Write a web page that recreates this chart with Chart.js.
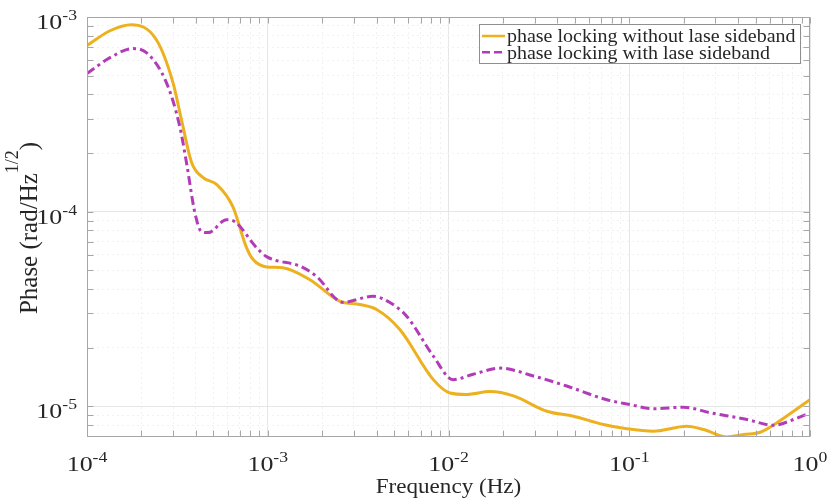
<!DOCTYPE html>
<html>
<head>
<meta charset="utf-8">
<script src="https://cdn.jsdelivr.net/npm/chart.js@4.4.1/dist/chart.umd.min.js"></script>
<style>
  html, body { margin: 0; padding: 0; background: #fff; }
  #wrap { width: 827px; height: 503px; }
</style>
</head>
<body>
<div id="wrap"><canvas id="phaseChart" width="827" height="503"></canvas></div>
<script>
// values (frequency in Hz, phase in rad/Hz^1/2)
const freqWithout = [1e-4, 1.34e-4, 1.76e-4, 2.42e-4, 2.99e-4, 3.33e-4, 3.79e-4, 4.37e-4, 5.21e-4, 6.41e-4,
  7.63e-4, 8.30e-4, 9.85e-4, 1.21e-3, 1.71e-3, 2.51e-3, 3.23e-3, 4.0e-3, 5.38e-3, 8.24e-3,
  1.02e-2, 1.26e-2, 1.70e-2, 2.29e-2, 3.50e-2, 4.91e-2, 7.20e-2, 9.70e-2, 0.136, 0.208,
  0.258, 0.347, 0.429, 0.531, 0.656, 0.811, 1];
const phaseWithout = [7.13e-4, 8.5e-4, 9.13e-4, 7.64e-4, 4.6e-4, 2.97e-4, 1.79e-4, 1.50e-4, 1.38e-4, 1.06e-4,
  6.53e-5, 5.67e-5, 5.2e-5, 5.15e-5, 4.47e-5, 3.46e-5, 3.33e-5, 3.14e-5, 2.48e-5, 1.37e-5,
  1.17e-5, 1.15e-5, 1.19e-5, 1.13e-5, 9.42e-6, 8.89e-6, 8.06e-6, 7.66e-6, 7.44e-6, 7.89e-6,
  7.59e-6, 6.96e-6, 7.16e-6, 7.35e-6, 8.22e-6, 9.42e-6, 1.08e-5];

const freqWith = [1e-4, 1.34e-4, 1.79e-4, 2.13e-4, 2.75e-4, 3.26e-4, 3.55e-4, 3.95e-4, 4.30e-4, 4.68e-4,
  5.91e-4, 6.58e-4, 8.67e-4, 9.85e-4, 1.51e-3, 1.86e-3, 2.60e-3, 3.82e-3, 4.74e-3, 5.87e-3,
  8.24e-3, 1.06e-2, 1.37e-2, 1.93e-2, 2.95e-2, 4.51e-2, 7.51e-2, 0.101, 0.136, 0.200,
  0.281, 0.448, 0.628, 0.811, 1];
const phaseWith = [5.12e-4, 6.18e-4, 6.88e-4, 6.56e-4, 4.6e-4, 2.74e-4, 1.79e-4, 9.89e-5, 7.89e-5, 7.80e-5,
  9.09e-5, 8.88e-5, 6.53e-5, 5.87e-5, 5.24e-5, 4.65e-5, 3.42e-5, 3.67e-5, 3.41e-5, 2.90e-5,
  1.81e-5, 1.37e-5, 1.46e-5, 1.57e-5, 1.43e-5, 1.27e-5, 1.08e-5, 1.02e-5, 9.7e-6, 9.89e-6,
  9.25e-6, 8.55e-6, 7.98e-6, 8.55e-6, 9.25e-6];

const seriesLabels = ['phase locking without lase sideband', 'phase locking with lase sideband'];
const xDecades = [-4, -3, -2, -1, 0];
const yDecades = [-5, -4, -3];
const xRange = [1e-4, 1];
const yRange = [6.95e-6, 1e-3];

const SERIF = '"Liberation Serif", "Times New Roman", serif';
const TEXT = '#262626';
const AXIS = '#a6a6a6';

function toPoints(xs, ys) {
    return xs.map((f, i) => ({ x: f, y: ys[i] }));
}

// major decades plus 2..9 minor steps, clipped to the axis range
function logTicks(decades, min, max) {
    const ticks = [];
    const lo = Math.floor(Math.log10(min)), hi = decades[decades.length - 1];
    for (let e = lo; e <= hi; e++) {
        for (let m = 1; m <= 9; m++) {
            const v = m * Math.pow(10, e);
            if (v < min * 0.999 || v > max * 1.001) continue;
            ticks.push({ value: v, major: m === 1 });
        }
    }
    return ticks;
}

function stretchText(ctx, txt, x, y, size, sx) {
    ctx.save();
    ctx.translate(x, y);
    ctx.scale(sx, 1);
    ctx.font = `${size}px ${SERIF}`;
    ctx.textAlign = 'left';
    ctx.textBaseline = 'alphabetic';
    ctx.fillText(txt, 0, 0);
    ctx.restore();
}

function textWidth(ctx, txt, size, sx) {
    ctx.font = `${size}px ${SERIF}`;
    return ctx.measureText(txt).width * sx;
}

// "10" with a raised exponent
function drawPower(ctx, exp, anchorX, baseY, align) {
    const size = 22, supSize = 15, sx = 1.18, raise = 9;
    const sup = String(exp);
    const wb = textWidth(ctx, '10', size, sx);
    const ws = textWidth(ctx, sup, supSize, sx);
    const left = align === 'center' ? anchorX - (wb + ws) / 2 : anchorX - (wb + ws);
    stretchText(ctx, '10', left, baseY, size, sx);
    stretchText(ctx, sup, left + wb, baseY - raise, supSize, sx);
}

const decorations = {
    id: 'decorations',
    afterDatasetsDraw(chart) {
        const { ctx, chartArea: a, scales } = chart;
        const x = scales.x, y = scales.y;
        const L = Math.round(a.left) + 0.5, R = Math.round(a.right) - 0.5;
        const T = Math.round(a.top) + 0.5, B = Math.round(a.bottom) - 0.5;
        ctx.save();

        // box with inward ticks on all four sides
        ctx.strokeStyle = AXIS;
        ctx.lineWidth = 1;
        ctx.strokeRect(L, T, R - L, B - T);
        const tickLen = 6;
        ctx.beginPath();
        x.ticks.forEach(t => {
            const px = Math.round(x.getPixelForValue(t.value)) + 0.5;
            ctx.moveTo(px, B); ctx.lineTo(px, B - tickLen);
            ctx.moveTo(px, T); ctx.lineTo(px, T + tickLen);
        });
        y.ticks.forEach(t => {
            const py = Math.round(y.getPixelForValue(t.value)) + 0.5;
            ctx.moveTo(L, py); ctx.lineTo(L + tickLen, py);
            ctx.moveTo(R, py); ctx.lineTo(R - tickLen, py);
        });
        ctx.stroke();

        // tick labels
        ctx.fillStyle = TEXT;
        xDecades.forEach(e => drawPower(ctx, e, x.getPixelForValue(Math.pow(10, e)), a.bottom + 34, 'center'));
        yDecades.forEach(e => drawPower(ctx, e, a.left - 10, y.getPixelForValue(Math.pow(10, e)) + 12, 'right'));

        // x title
        const xt = 'Frequency (Hz)';
        const xtw = textWidth(ctx, xt, 22, 1.05);
        stretchText(ctx, xt, (a.left + a.right) / 2 - xtw / 2, 493, 22, 1.05);

        // y title, rotated, with the 1/2 exponent
        ctx.save();
        ctx.translate(37, (a.top + a.bottom) / 2 + 1);
        ctx.rotate(-Math.PI / 2);
        const p1 = 'Phase (rad/Hz', p2 = '1/2', p3 = ')';
        const w1 = textWidth(ctx, p1, 25, 1), w2 = textWidth(ctx, p2, 18, 1), w3 = textWidth(ctx, p3, 25, 1);
        let cx = -(w1 + w2 + w3) / 2;
        stretchText(ctx, p1, cx, 0, 25, 1); cx += w1;
        stretchText(ctx, p2, cx, -19, 18, 1); cx += w2;
        stretchText(ctx, p3, cx, 0, 25, 1);
        ctx.restore();

        // legend box
        const lg = { left: 479.5, top: 24.5, right: 800.5, bottom: 63.5 };
        ctx.fillStyle = '#fff';
        ctx.fillRect(lg.left, lg.top, lg.right - lg.left, lg.bottom - lg.top);
        ctx.strokeStyle = '#8f8f8f';
        ctx.strokeRect(lg.left, lg.top, lg.right - lg.left, lg.bottom - lg.top);
        chart.data.datasets.forEach((ds, i) => {
            const rowY = 36 + i * 16.3;
            ctx.save();
            ctx.strokeStyle = ds.borderColor;
            ctx.lineWidth = 2.5;
            ctx.setLineDash(i === 1 ? [8, 4] : []);
            ctx.beginPath();
            ctx.moveTo(482, rowY); ctx.lineTo(505, rowY);
            ctx.stroke();
            ctx.restore();
            ctx.fillStyle = TEXT;
            stretchText(ctx, ds.label, 507, rowY + 6.3, 18.5, 1.08);
        });

        ctx.restore();
    }
};

const ctx = document.getElementById('phaseChart');
new Chart(ctx, {
    type: 'line',
    data: {
        datasets: [
            {
                label: seriesLabels[0],
                data: toPoints(freqWithout, phaseWithout),
                borderColor: '#EDB120',
                borderWidth: 3,
                order: 1
            },
            {
                label: seriesLabels[1],
                data: toPoints(freqWith, phaseWith),
                borderColor: '#B23CB8',
                borderWidth: 3,
                borderDash: [9, 4, 3, 4],
                order: 0
            }
        ]
    },
    options: {
        responsive: false,
        animation: false,
        devicePixelRatio: 1,
        layout: { padding: { top: 17, right: 17, left: 0, bottom: 0 } },
        elements: {
            point: { radius: 0, hoverRadius: 0 },
            line: { cubicInterpolationMode: 'monotone', fill: false, borderCapStyle: 'butt' }
        },
        plugins: { legend: { display: false }, tooltip: { enabled: false } },
        scales: {
            x: {
                type: 'logarithmic',
                min: xRange[0],
                max: xRange[1],
                afterBuildTicks: s => { s.ticks = logTicks(xDecades, xRange[0], xRange[1]); },
                afterFit: s => { s.height = 66; },
                ticks: { display: false, autoSkip: false },
                border: { display: false, dash: c => (c.tick && c.tick.major ? [] : [2, 3]) },
                grid: {
                    drawTicks: false,
                    color: c => (c.tick && c.tick.major ? '#e6e6e6' : '#f1f1f1'),
                    lineWidth: 1
                }
            },
            y: {
                type: 'logarithmic',
                min: yRange[0],
                max: yRange[1],
                afterBuildTicks: s => { s.ticks = logTicks(yDecades, yRange[0], yRange[1]); },
                afterFit: s => { s.width = 87; },
                ticks: { display: false, autoSkip: false },
                border: { display: false, dash: c => (c.tick && c.tick.major ? [] : [2, 3]) },
                grid: {
                    drawTicks: false,
                    color: c => (c.tick && c.tick.major ? '#e6e6e6' : '#f1f1f1'),
                    lineWidth: 1
                }
            }
        }
    },
    plugins: [decorations]
});
</script>
</body>
</html>
